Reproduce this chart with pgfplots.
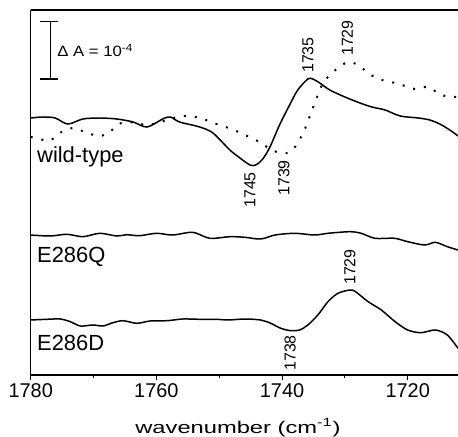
\documentclass[border=0pt]{standalone}
\usepackage{fontspec}
\setmainfont{Liberation Sans}
\usepackage{graphicx}
\usepackage{pgfplots}
\pgfplotsset{compat=1.18}

\begin{document}
\begin{tikzpicture}
\useasboundingbox (-30.7bp,-62bp) rectangle (427.3bp,375bp);
\begin{axis}[
    at={(0,0)}, anchor=south west,
    width=427.3bp, height=365bp, scale only axis,
    xmin=1712, xmax=1780, x dir=reverse,
    ymin=0, ymax=365,
    axis x line*=box, axis y line*=left,
    ytick=\empty,
    xtick={1720,1740,1760,1780},
    minor xtick={1730,1750,1770},
    xtick pos=bottom,
    tick align=outside,
    major tick length=5bp, minor tick length=3bp,
    tick style={line width=1.1pt, black},
    axis line style={line width=1.3pt},
    /pgf/number format/1000 sep={},
    /pgf/number format/assume math mode=true,
    xticklabel style={font=\fontsize{20}{24}\selectfont},
    clip=false,
]

% wild-type, solid
\addplot[smooth, line width=1.5pt] coordinates {
(1780.0,257) (1778.0,258) (1776.1,257) (1774.1,251) (1771.7,256) (1769.0,257)
(1766.3,256) (1763.7,253) (1761.5,248) (1759.0,256) (1757.8,258) (1756.3,253)
(1753.1,248) (1751.0,242) (1748.3,225) (1746.7,217) (1745.1,210) (1744.2,210)
(1743.2,215) (1742.0,227) (1740.4,250) (1738.8,270) (1737.5,285) (1735.9,296)
(1735.1,296) (1734.0,292) (1732.4,285) (1730.0,278) (1727.6,272) (1725.7,268)
(1723.6,265) (1721.2,259) (1718.3,257) (1716.5,255) (1714.9,251) (1713.3,245)
(1712.0,239)
};

% wild-type, dotted
\addplot[smooth, line width=2pt, dash pattern=on 2pt off 9pt] coordinates {
(1780.0,238) (1778.5,236) (1777.4,234) (1776.5,236) (1775.4,242) (1773.3,247)
(1771.0,242) (1769.0,239) (1767.4,243) (1766.3,250) (1764.5,253) (1761.5,250)
(1759.9,252) (1756.7,258) (1755.1,259) (1753.0,257) (1750.9,252) (1748.5,247)
(1746.9,243) (1744.9,237) (1743.3,232) (1741.7,225) (1740.1,222) (1738.7,223)
(1737.5,232) (1736.3,247) (1735.4,262) (1734.6,275) (1733.8,288) (1732.7,298)
(1731.1,307) (1729.5,313) (1727.9,310) (1726.3,302) (1724.7,296) (1722.6,293)
(1720.4,289) (1718.8,286) (1716.7,288) (1714.7,280) (1712.0,278)
};

% E286Q
\addplot[smooth, line width=1.5pt] coordinates {
(1780.0,140) (1776.9,139) (1774.2,140.7) (1771.7,138.3) (1769.0,141.7) (1766.3,139)
(1764.7,140.3) (1762.7,139.3) (1760.0,141.7) (1757.4,140) (1754.2,142.7) (1751.5,136.7)
(1748.3,138.3) (1745.9,137.7) (1743.4,136) (1741.1,140) (1738.0,141.7) (1734.8,140)
(1732.7,141.7) (1729.2,143.3) (1727.4,141.7) (1725.2,136.7) (1722.1,136.7) (1720.0,133.3)
(1717.3,130) (1715.6,132.7) (1713.7,128.3) (1712.0,125)
};

% E286D
\addplot[smooth, line width=1.5pt] coordinates {
(1780.0,55) (1777.4,55.7) (1775.3,56) (1773.7,53.3) (1772.1,49) (1770.1,50)
(1768.5,49) (1766.9,52.3) (1765.3,54.3) (1763.1,51.7) (1761.0,54) (1758.3,54.3)
(1755.8,56) (1753.1,55.7) (1750.4,55.7) (1748.6,55) (1745.9,56) (1743.4,55)
(1741.8,51.7) (1740.2,46.7) (1738.6,44.3) (1737.2,45) (1735.9,50) (1734.3,60)
(1732.7,73.3) (1731.1,81.7) (1729.2,85) (1728.3,83.3) (1726.3,73.3) (1724.2,65)
(1722.0,53.3) (1720.0,45) (1717.9,42.3) (1715.6,45) (1713.7,40) (1712.0,26.7)
};

% peak labels
\begin{scope}[every node/.style={font=\fontsize{16}{19}\selectfont, rotate=90, inner sep=0pt}]
\node[anchor=west] at (axis cs:1735.9,302) {1735};
\node[anchor=west] at (axis cs:1729.6,319) {1729};
\node[anchor=east] at (axis cs:1745.1,203) {1745};
\node[anchor=east] at (axis cs:1739.7,215) {1739};
\node[anchor=west] at (axis cs:1729.2,90) {1729};
\node[anchor=east] at (axis cs:1738.7,40) {1738};
\end{scope}

% trace names
\begin{scope}[every node/.style={font=\fontsize{22}{26}\selectfont, anchor=base west, inner sep=0pt}]
\node at (axis cs:1779.0,212) {wild-type};
\node at (axis cs:1779.0,112.7) {E286Q};
\node at (axis cs:1779.0,25) {E286D};
\end{scope}

% scale bar
\draw[line width=1.3pt] (axis cs:1776.9,353.3) -- (axis cs:1776.9,296);
\draw[line width=1.3pt] (axis cs:1778.5,353.3) -- (axis cs:1775.7,353.3);
\draw[line width=1.3pt] (axis cs:1778.5,296) -- (axis cs:1775.7,296);
\node[anchor=base west, inner sep=0pt, font=\fontsize{15}{18}\selectfont]
  at (axis cs:1775.8,318.3) {\scalebox{1.12}[1]{Δ A = 10\textsuperscript{-4}}};

% axis label
\node[anchor=base, inner sep=0pt, font=\fontsize{17}{20}\selectfont]
  at (axis description cs:0.485,-0.159) {\scalebox{1.4}[1]{wavenumber (cm\textsuperscript{-1})}};

\end{axis}
\end{tikzpicture}
\end{document}
